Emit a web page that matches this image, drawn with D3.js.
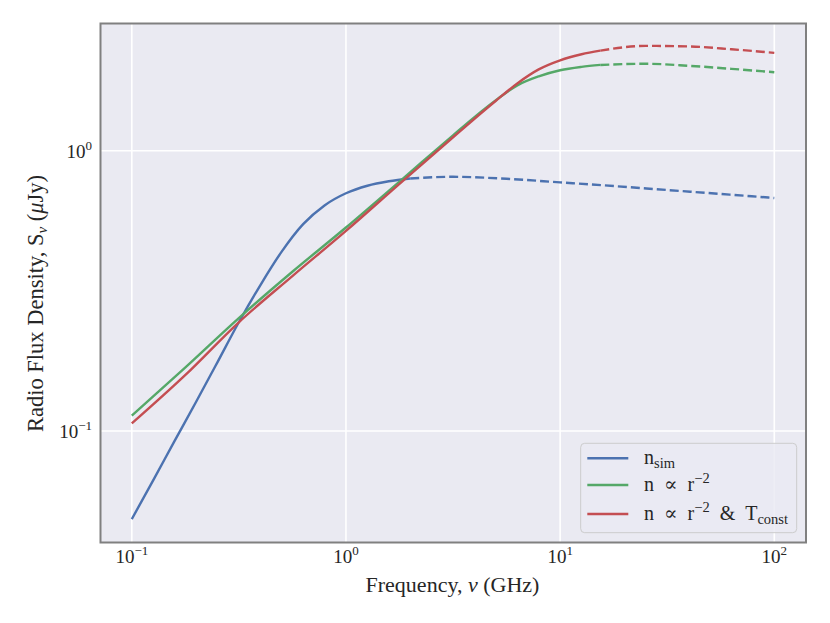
<!DOCTYPE html>
<html>
<head>
<meta charset="utf-8">
<script src="https://cdn.jsdelivr.net/npm/d3@7"></script>
<style>
  html, body { margin: 0; padding: 0; background: #ffffff; }
  svg { display: block; }
  text { font-family: "Liberation Serif", "DejaVu Serif", serif; fill: #262626; }
</style>
</head>
<body>
<svg id="chart" width="830" height="623"></svg>
<script>
// ---------- data (frequency in GHz, flux density in µJy) ----------
const nSimFreqSolid   = [0.1, 0.126, 0.158, 0.2, 0.251, 0.316, 0.398, 0.501, 0.631, 0.794, 1.0, 1.259, 1.585, 1.995];
const nSimFluxSolid   = [0.0485, 0.0668, 0.0918, 0.1274, 0.1758, 0.2443, 0.3311, 0.4365, 0.547, 0.638, 0.705, 0.750, 0.778, 0.796];
const nSimFreqDashed  = [1.995, 3.16, 5.62, 10, 17.8, 31.6, 56.2, 100];
const nSimFluxDashed  = [0.796, 0.807, 0.794, 0.771, 0.748, 0.724, 0.701, 0.678];

const windFreqSolid   = [0.1, 0.178, 0.316, 0.562, 1.0, 1.778, 3.162, 3.981, 5.012, 6.31, 7.943, 10, 12.59, 15.4];
const windFluxSolid   = [0.1135, 0.1687, 0.2529, 0.370, 0.532, 0.776, 1.135, 1.318, 1.514, 1.710, 1.841, 1.936, 1.991, 2.023];
const windFreqDashed  = [15.4, 25.1, 39.8, 63.1, 100];
const windFluxDashed  = [2.023, 2.042, 2.009, 1.959, 1.905];

const tconstFreqSolid  = [0.1, 0.178, 0.316, 0.562, 1.0, 1.778, 3.162, 3.981, 5.012, 6.31, 7.943, 10, 12.59, 15.4];
const tconstFluxSolid  = [0.1064, 0.1585, 0.2443, 0.357, 0.5176, 0.762, 1.117, 1.300, 1.507, 1.738, 1.950, 2.101, 2.208, 2.275];
const tconstFreqDashed = [15.4, 25.1, 39.8, 63.1, 100];
const tconstFluxDashed = [2.275, 2.366, 2.355, 2.301, 2.234];

const xTickValues = [0.1, 1, 10, 100];
const xTickExps   = ["\u22121", "0", "1", "2"];
const yTickValues = [0.1, 1];
const yTickExps   = ["\u22121", "0"];

// ---------- layout ----------
const svg = d3.select("#chart");
const frame = { left: 100.5, right: 806, top: 23.5, bottom: 542.5 };
const x = d3.scaleLog().domain([0.1, 100]).range([131.8, 774.3]);
const y = d3.scaleLog().domain([0.1, 1]).range([431, 150.7]);

const colors = { blue: "#4C72B0", green: "#55A868", red: "#C44E52" };

svg.append("rect")
  .attr("x", frame.left).attr("y", frame.top)
  .attr("width", frame.right - frame.left).attr("height", frame.bottom - frame.top)
  .attr("fill", "#EAEAF2");

svg.append("clipPath").attr("id", "plotclip")
  .append("rect")
  .attr("x", frame.left).attr("y", frame.top)
  .attr("width", frame.right - frame.left).attr("height", frame.bottom - frame.top);

// grid
const grid = svg.append("g").attr("clip-path", "url(#plotclip)");
grid.selectAll("line.vx").data(xTickValues).enter().append("line")
  .attr("x1", d => x(d)).attr("x2", d => x(d))
  .attr("y1", frame.top).attr("y2", frame.bottom)
  .attr("stroke", "#ffffff").attr("stroke-width", 1.6);
grid.selectAll("line.hy").data(yTickValues).enter().append("line")
  .attr("y1", d => y(d)).attr("y2", d => y(d))
  .attr("x1", frame.left).attr("x2", frame.right)
  .attr("stroke", "#ffffff").attr("stroke-width", 1.6);

// lines
const line = d3.line().x(d => x(d[0])).y(d => y(d[1])).curve(d3.curveMonotoneX);
const zip = (a, b) => a.map((v, i) => [v, b[i]]);
const plot = svg.append("g").attr("clip-path", "url(#plotclip)");
function drawSeries(fx, fy, color, dashed) {
  plot.append("path")
    .datum(zip(fx, fy))
    .attr("d", line)
    .attr("fill", "none")
    .attr("stroke", color)
    .attr("stroke-width", 2.4)
    .attr("stroke-linecap", "butt")
    .attr("stroke-dasharray", dashed ? "9,4" : null);
}
drawSeries(nSimFreqSolid, nSimFluxSolid, colors.blue, false);
drawSeries(nSimFreqDashed, nSimFluxDashed, colors.blue, true);
drawSeries(windFreqSolid, windFluxSolid, colors.green, false);
drawSeries(windFreqDashed, windFluxDashed, colors.green, true);
drawSeries(tconstFreqSolid, tconstFluxSolid, colors.red, false);
drawSeries(tconstFreqDashed, tconstFluxDashed, colors.red, true);

// frame
svg.append("rect")
  .attr("x", frame.left).attr("y", frame.top)
  .attr("width", frame.right - frame.left).attr("height", frame.bottom - frame.top)
  .attr("fill", "none").attr("stroke", "#808080").attr("stroke-width", 2);

// tick labels
const fs = 19;
const xt = svg.append("g");
xTickValues.forEach((v, i) => {
  const t = xt.append("text")
    .attr("x", x(v)).attr("y", 563)
    .attr("text-anchor", "middle")
    .attr("font-size", fs);
  t.append("tspan").text("10");
  t.append("tspan").attr("dy", -8).attr("font-size", 13).text(xTickExps[i]);
});
const yt = svg.append("g");
yTickValues.forEach((v, i) => {
  const t = yt.append("text")
    .attr("x", 92).attr("y", y(v) + 7)
    .attr("text-anchor", "end")
    .attr("font-size", fs);
  t.append("tspan").text("10");
  t.append("tspan").attr("dy", -8).attr("font-size", 13).text(yTickExps[i]);
});

// axis labels
const xl = svg.append("text")
  .attr("x", 452.5).attr("y", 592)
  .attr("text-anchor", "middle").attr("font-size", 22);
xl.append("tspan").text("Frequency, ");
xl.append("tspan").attr("font-style", "italic").text("\u03BD");
xl.append("tspan").text(" (GHz)");

const yl = svg.append("text")
  .attr("transform", `translate(43, 303.5) rotate(-90)`)
  .attr("text-anchor", "middle").attr("font-size", 22.5);
yl.append("tspan").text("Radio Flux Density, S");
yl.append("tspan").attr("font-size", 15).attr("dy", 4).attr("font-style", "italic").text("\u03BD");
yl.append("tspan").attr("dy", -4).text("  (");
yl.append("tspan").attr("font-style", "italic").text("\u03BC");
yl.append("tspan").text("Jy)");

// legend
const lg = svg.append("g");
lg.append("rect")
  .attr("x", 580.7).attr("y", 443.3).attr("width", 216).attr("height", 89.4)
  .attr("rx", 4).attr("ry", 4)
  .attr("fill", "#EAEAF2").attr("fill-opacity", 0.8)
  .attr("stroke", "#cccccc").attr("stroke-width", 1);

// parts: [text, baseline offset (absolute), font size]
const legendItems = [
  { color: colors.blue, parts: [["n", 0, 20], ["sim", 4, 14.5]] },
  { color: colors.green, parts: [["n\u2002\u221D\u2002r", 0, 20], ["\u22122", -8, 14.5]] },
  { color: colors.red, parts: [["n\u2002\u221D\u2002r", 0, 20], ["\u22122", -8, 14.5], ["\u2002&\u2002T", 0, 20], ["const", 4, 14.5]] }
];
const rowY = [458.3, 485, 514];
legendItems.forEach((it, i) => {
  lg.append("line")
    .attr("x1", 587.3).attr("x2", 628.3)
    .attr("y1", rowY[i]).attr("y2", rowY[i])
    .attr("stroke", it.color).attr("stroke-width", 2.4);
  const t = lg.append("text").attr("x", 644).attr("y", rowY[i] + 6).attr("font-size", 20);
  let cum = 0;
  it.parts.forEach(p => {
    const dy = p[1] - cum;
    cum = p[1];
    t.append("tspan").attr("dy", dy).attr("font-size", p[2]).text(p[0]);
  });
});
</script>
</body>
</html>
